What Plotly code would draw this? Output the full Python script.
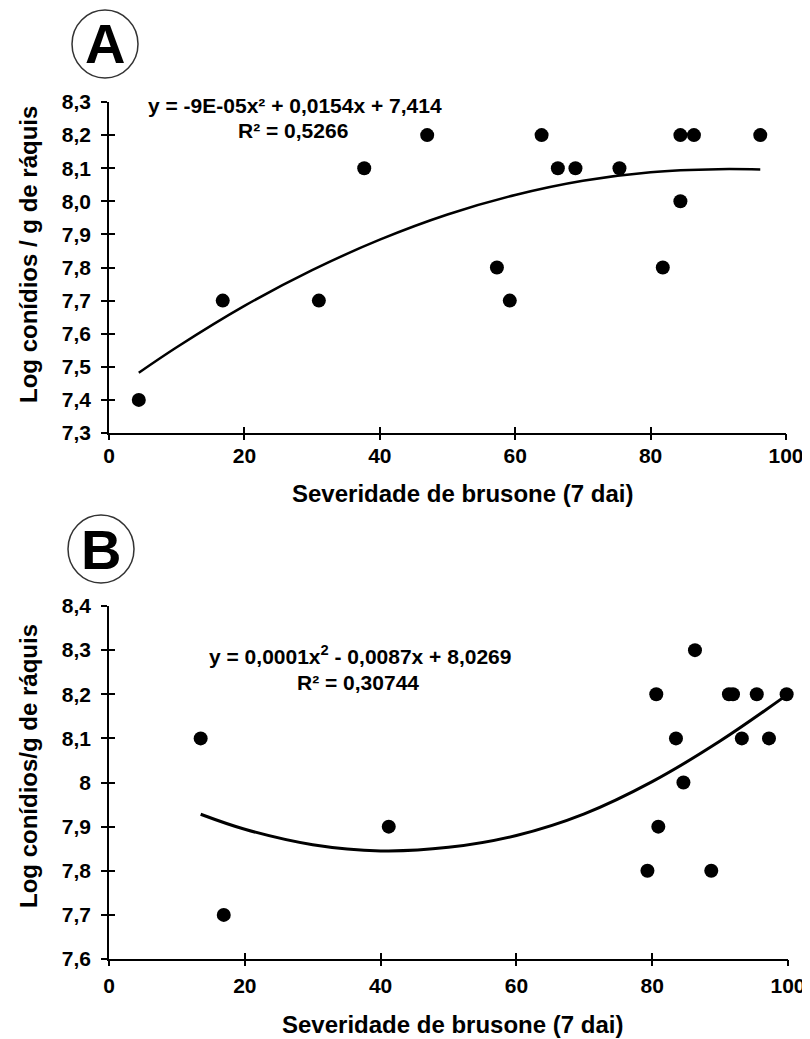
import plotly.graph_objects as go

# ---------------- data ----------------
# Panel A
a_sev = [4.4, 16.8, 31.0, 37.7, 47.0, 57.3, 59.2, 63.9, 66.3, 68.9, 75.4, 81.8, 84.4, 84.4, 86.4, 96.2]
a_log = [7.4, 7.7, 7.7, 8.1, 8.2, 7.8, 7.7, 8.2, 8.1, 8.1, 8.1, 7.8, 8.0, 8.2, 8.2, 8.2]
a_fit_x = [4.4, 10, 20, 30, 40, 50, 60, 70, 80, 90, 96.2]
a_fit_y = [7.482, 7.559, 7.684, 7.792, 7.884, 7.960, 8.019, 8.062, 8.088, 8.097, 8.096]
a_eq = "y = -9E-05x² + 0,0154x + 7,414"
a_r2 = "R² = 0,5266"
a_yticks = [7.3, 7.4, 7.5, 7.6, 7.7, 7.8, 7.9, 8.0, 8.1, 8.2, 8.3]
a_yticktext = ["7,3", "7,4", "7,5", "7,6", "7,7", "7,8", "7,9", "8,0", "8,1", "8,2", "8,3"]

# Panel B
b_sev = [13.5, 16.9, 41.2, 79.3, 80.6, 80.9, 83.5, 84.6, 86.3, 88.7, 91.3, 91.9, 93.2, 95.4, 97.2, 99.8]
b_log = [8.1, 7.7, 7.9, 7.8, 8.2, 7.9, 8.1, 8.0, 8.3, 7.8, 8.2, 8.2, 8.1, 8.2, 8.1, 8.2]
b_fit_x = [13.5, 20, 30, 40, 50, 60, 70, 80, 90, 99.8]
b_fit_y = [7.928, 7.894, 7.859, 7.845, 7.853, 7.880, 7.929, 8.002, 8.094, 8.198]
b_eq = "y = 0,0001x<sup>2</sup> - 0,0087x + 8,0269"
b_r2 = "R² = 0,30744"
b_yticks = [7.6, 7.7, 7.8, 7.9, 8.0, 8.1, 8.2, 8.3, 8.4]
b_yticktext = ["7,6", "7,7", "7,8", "7,9", "8", "8,1", "8,2", "8,3", "8,4"]

x_ticks = [0, 20, 40, 60, 80, 100]
x_ticktext = ["0", "20", "40", "60", "80", "100"]
x_title = "Severidade de brusone (7 dai)"
a_ytitle = "Log conídios / g de ráquis"
b_ytitle = "Log conídios/g de ráquis"

# ---------------- figure ----------------
OFF = 8                      # page body margin
W, H = 810 - OFF, 1039 - OFF
FONT = "Liberation Sans, Arial, sans-serif"


def px(x):
    return (x - OFF) / W


def py(y):
    return 1 - (y - OFF) / H


fig = go.Figure()

marker = dict(color="black", size=14)
fig.add_trace(go.Scatter(x=a_sev, y=a_log, mode="markers", marker=marker,
                         xaxis="x", yaxis="y", cliponaxis=False, showlegend=False))
fig.add_trace(go.Scatter(x=a_fit_x, y=a_fit_y, mode="lines", line=dict(color="black", width=2.5, shape="spline"),
                         xaxis="x", yaxis="y", showlegend=False))
fig.add_trace(go.Scatter(x=b_sev, y=b_log, mode="markers", marker=marker,
                         xaxis="x2", yaxis="y2", cliponaxis=False, showlegend=False))
fig.add_trace(go.Scatter(x=b_fit_x, y=b_fit_y, mode="lines", line=dict(color="black", width=3, shape="spline"),
                         xaxis="x2", yaxis="y2", showlegend=False))
# dummy traces for overlay (outside-tick) x axes and inside-tick y axes
fig.add_trace(go.Scatter(x=[None], y=[None], xaxis="x3", yaxis="y3", showlegend=False, hoverinfo="skip"))
fig.add_trace(go.Scatter(x=[None], y=[None], xaxis="x4", yaxis="y4", showlegend=False, hoverinfo="skip"))

tickfont = dict(family=FONT, size=21, color="black", weight="bold")

common_x = dict(range=[0, 100], tickvals=x_ticks, ticktext=x_ticktext, showgrid=False, zeroline=False,
                showline=True, linecolor="black", linewidth=2, ticks="inside", ticklen=6, tickwidth=1.5,
                tickcolor="black", tickfont=tickfont, automargin=False)
common_y = dict(showgrid=False, zeroline=False, showline=True, linecolor="black", linewidth=1.5,
                ticks="outside", ticklen=6, tickwidth=1.5, tickcolor="black", tickfont=tickfont,
                ticklabelstandoff=6, automargin=False)
over_x = dict(range=[0, 100], tickvals=x_ticks, showgrid=False, zeroline=False, showline=False,
              ticks="outside", ticklen=6, tickwidth=1.5, tickcolor="black", showticklabels=False,
              automargin=False)
inner_y = dict(showgrid=False, zeroline=False, showline=False, ticks="inside", ticklen=6, tickwidth=1.5,
               tickcolor="black", showticklabels=False, automargin=False)

a_dom_x = [px(109), px(786)]
a_dom_y = [py(433), py(102)]
b_dom_x = [px(109), px(788)]
b_dom_y = [py(959), py(606)]

fig.update_layout(
    width=W, height=H, margin=dict(l=0, r=0, t=0, b=0, pad=0, autoexpand=False),
    paper_bgcolor="white", plot_bgcolor="white", showlegend=False,
    xaxis=dict(domain=a_dom_x, anchor="y", ticklabelstandoff=3, **common_x),
    yaxis=dict(domain=a_dom_y, anchor="x", range=[7.3, 8.3], tickvals=a_yticks, ticktext=a_yticktext, **common_y),
    xaxis2=dict(domain=b_dom_x, anchor="y2", ticklabelstandoff=7, **common_x),
    yaxis2=dict(domain=b_dom_y, anchor="x2", range=[7.6, 8.4], tickvals=b_yticks, ticktext=b_yticktext, **common_y),
    xaxis3=dict(overlaying="x", anchor="y3", **over_x),
    yaxis3=dict(overlaying="y", anchor="x3", range=[7.3, 8.3], tickvals=a_yticks, **inner_y),
    xaxis4=dict(overlaying="x2", anchor="y4", **over_x),
    yaxis4=dict(overlaying="y2", anchor="x4", range=[7.6, 8.4], tickvals=b_yticks, **inner_y),
)

title_font = dict(family=FONT, size=24, color="black", weight="bold")
eq_font = dict(family=FONT, size=21, color="black", weight="bold")
letter_font = dict(family=FONT, size=56, color="black", weight="bold")

annotations = [
    dict(text=x_title, x=px(462), y=py(493), font=title_font),
    dict(text=x_title, x=px(452), y=py(1024), font=title_font),
    dict(text=a_ytitle, x=px(28), y=py(255), textangle=-90, font=title_font),
    dict(text=b_ytitle, x=px(28), y=py(766), textangle=-90, font=title_font),
    dict(text=a_eq, x=px(295), y=py(105), font=eq_font),
    dict(text=a_r2, x=px(293), y=py(130), font=eq_font),
    dict(text=b_eq, x=px(360), y=py(655), font=eq_font),
    dict(text=b_r2, x=px(358), y=py(682), font=eq_font),
    dict(text="A", x=px(105), y=py(44), font=letter_font),
    dict(text="B", x=px(101), y=py(549), font=letter_font),
]
for a in annotations:
    a.update(xref="paper", yref="paper", showarrow=False, xanchor="center", yanchor="middle")
fig.update_layout(annotations=annotations)

fig.add_shape(type="circle", xref="paper", yref="paper", x0=px(72), x1=px(138), y0=py(78), y1=py(10),
              line=dict(color="#333333", width=1.5))
fig.add_shape(type="circle", xref="paper", yref="paper", x0=px(68), x1=px(134), y0=py(583), y1=py(515),
              line=dict(color="#333333", width=1.5))

fig.write_html("out.html")
